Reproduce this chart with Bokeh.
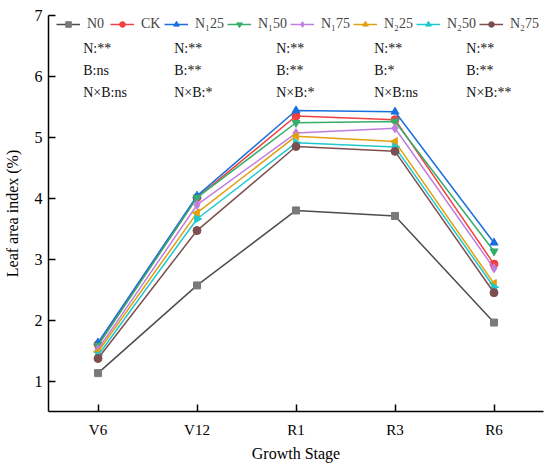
import math
from bokeh.plotting import figure
from bokeh.models import ColumnDataSource, FixedTicker, Legend, LegendItem
from bokeh.core.properties import value
from bokeh.embed import file_html
from bokeh.resources import INLINE

stages = ["V6", "V12", "R1", "R3", "R6"]
series_names = ["N0", "CK", "N\u208125", "N\u208150", "N\u208175", "N\u208225", "N\u208250", "N\u208275"]
N0 = [1.13, 2.57, 3.80, 3.71, 1.96]
CK = [1.60, 4.01, 5.35, 5.29, 2.92]
N1_25 = [1.63, 4.04, 5.44, 5.42, 3.27]
N1_50 = [1.58, 4.01, 5.24, 5.26, 3.13]
N1_75 = [1.52, 3.89, 5.07, 5.15, 2.85]
N2_25 = [1.48, 3.76, 5.02, 4.93, 2.60]
N2_50 = [1.42, 3.66, 4.91, 4.84, 2.54]
N2_75 = [1.37, 3.47, 4.85, 4.77, 2.45]
series_values = [N0, CK, N1_25, N1_50, N1_75, N2_25, N2_50, N2_75]

sig_N = ["N:**", "N:**", "N:**", "N:**", "N:**"]
sig_B = ["B:ns", "B:**", "B:**", "B:*", "B:**"]
sig_NB = ["N\u00d7B:ns", "N\u00d7B:*", "N\u00d7B:*", "N\u00d7B:ns", "N\u00d7B:**"]

line_colors = ["#4d4d4d", "#f14040", "#1a6fdf", "#37ad6b", "#c07ee0", "#e0a010", "#1cc8d0", "#7d4e4e"]
marker_colors = ["#7a7a7a", "#f14040", "#1a6fdf", "#37ad6b", "#c07ee0", "#e0a010", "#1cc8d0", "#7d4e4e"]
markers = ["square", "circle", "triangle", "inverted_triangle", "diamond", "triangle", "triangle", "circle"]
angles = [0, 0, 0, 0, 0, math.pi / 2, -math.pi / 2, 0]
sizes = [7, 8, 8, 8, 9, 8, 8, 8]

FONT = "Liberation Serif"

p = figure(width=545, height=466, x_range=(-0.5, 4.5), y_range=(0.5, 7),
           output_backend="svg", toolbar_location=None,
           min_border_left=47, min_border_right=2, min_border_top=15, min_border_bottom=55)
p.outline_line_color = None
p.grid.visible = False

xs = list(range(len(stages)))
items = []
for name, vals, lc, mc, mk, ang, sz in zip(series_names, series_values, line_colors,
                                          marker_colors, markers, angles, sizes):
    src = ColumnDataSource(dict(x=xs, y=vals))
    r1 = p.line("x", "y", source=src, line_color=lc, line_width=1.5)
    r2 = p.scatter("x", "y", source=src, marker=mk, size=sz, angle=ang,
                   fill_color=mc, line_color=mc)
    items.append(LegendItem(label=name, renderers=[r1, r2]))

legend = Legend(items=items, orientation="horizontal", location=(8, 379),
                glyph_width=24, glyph_height=14, label_standoff=7, spacing=3,
                padding=0, margin=0, border_line_color=None, background_fill_alpha=0,
                label_text_font=FONT, label_text_font_size="14px", label_height=14)
p.add_layout(legend)

# significance annotations
ann_x = [-0.15, 0.77, 1.80, 2.79, 3.72]
for row_y, labels in zip([6.46, 6.10, 5.74], [sig_N, sig_B, sig_NB]):
    src = ColumnDataSource(dict(x=ann_x, y=[row_y] * len(ann_x), t=labels))
    p.text("x", "y", text="t", source=src, text_font=value(FONT), text_font_size="14px",
           text_baseline="middle", text_align="left", text_color="#111111")

p.xaxis.ticker = FixedTicker(ticks=xs)
p.xaxis.major_label_overrides = {i: s for i, s in enumerate(stages)}
p.yaxis.ticker = FixedTicker(ticks=[1, 2, 3, 4, 5, 6, 7])
p.xaxis.axis_label = "Growth Stage"
p.yaxis.axis_label = "Leaf area index (%)"
for ax in [p.xaxis[0], p.yaxis[0]]:
    ax.axis_line_width = 1.5
    ax.axis_line_color = "black"
    ax.major_tick_in = 7
    ax.major_tick_out = 0
    ax.major_tick_line_width = 1.5
    ax.minor_tick_line_color = None
    ax.major_label_text_font = FONT
    ax.axis_label_text_font = FONT
    ax.axis_label_text_font_style = "normal"
    ax.major_label_text_color = "black"
    ax.axis_label_text_color = "black"
p.xaxis.major_label_text_font_size = "15px"
p.yaxis.major_label_text_font_size = "16px"
p.xaxis.axis_label_text_font_size = "16px"
p.yaxis.axis_label_text_font_size = "16px"
p.xaxis.major_label_standoff = 10
p.xaxis.axis_label_standoff = 4
p.yaxis.major_label_standoff = 6
p.yaxis.axis_label_standoff = 11

open("out.html", "w").write(file_html(p, INLINE))
